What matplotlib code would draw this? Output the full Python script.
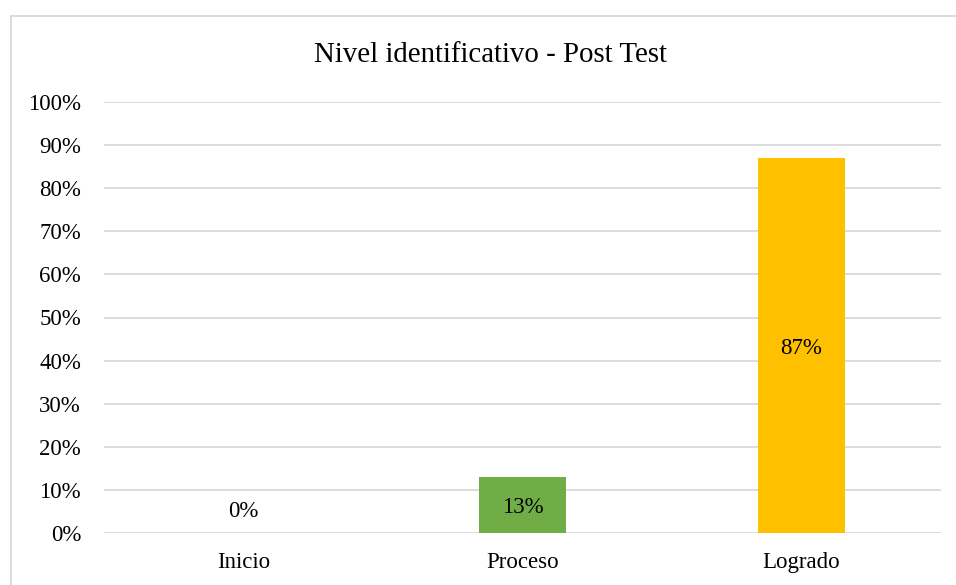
import numpy as np
import matplotlib
matplotlib.use('Agg')
import matplotlib.pyplot as plt
from matplotlib.lines import Line2D

# Data
categories = ['Inicio', 'Proceso', 'Logrado']
values = [0, 13, 87]
bar_colors = ['#4472C4', '#70AD47', '#FFC000']
yticks = np.arange(0, 101, 10)

plt.rcParams['font.family'] = ['Liberation Serif', 'DejaVu Serif']

fig = plt.figure(figsize=(9.56, 5.85), dpi=100)
ax = fig.add_axes([104 / 956, 1 - 533 / 585, 837 / 956, 431 / 585])

x = np.arange(len(categories))
bars = ax.bar(x, values, width=0.315, color=bar_colors, zorder=3)

for xi, v in zip(x, values):
    ax.text(xi, v / 2 - 0.6 if v > 0 else 5.0, f'{v}%', ha='center', va='center',
            fontsize=16.5, color='#000000', zorder=4)

ax.set_xlim(-0.5, len(categories) - 0.5)
ax.set_ylim(0, 100)
ax.set_yticks(yticks)
ax.set_yticklabels([f'{t}%' for t in yticks], fontsize=16.5)
ax.set_xticks(x)
ax.set_xticklabels(categories, fontsize=16.5)
ax.tick_params(length=0)
ax.tick_params(axis='y', pad=16.5)
ax.tick_params(axis='x', pad=14)
ax.yaxis.grid(True, color='#D9D9D9', linewidth=1.3, zorder=0)
for s in ax.spines.values():
    s.set_visible(False)

fig.text(490.5 / 956, 1 - 55 / 585, 'Nivel identificativo - Post Test', ha='center',
         va='center', fontsize=20.8)

# chart border (left and top edges visible)
fig.add_artist(Line2D([10.5 / 956, 10.5 / 956], [0, 1 - 16 / 585], color='#D9D9D9',
                      linewidth=1.3, transform=fig.transFigure))
fig.add_artist(Line2D([10.5 / 956, 1], [1 - 16 / 585, 1 - 16 / 585], color='#D9D9D9',
                      linewidth=1.3, transform=fig.transFigure))

plt.savefig('out.png', dpi=100)
